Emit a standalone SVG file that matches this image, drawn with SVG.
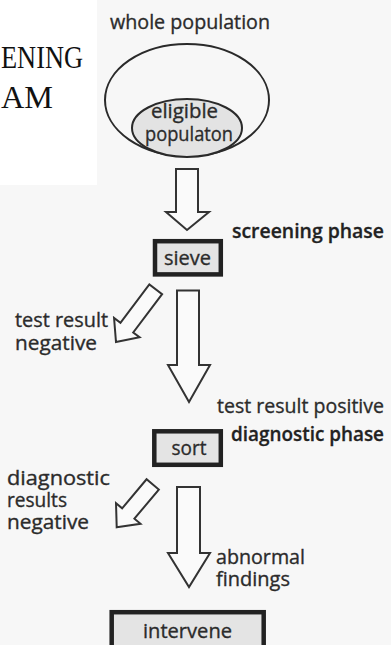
<svg xmlns="http://www.w3.org/2000/svg" width="391" height="645" viewBox="0 0 391 645">
  <style>
    .lbl { font-family: "Open Sans", "Noto Sans", sans-serif; font-size: 20.5px; fill: #2b2b2b; stroke: #2b2b2b; stroke-width: 0.35; }
    .sm { font-size: 19.5px; }
    .phase { font-family: "Open Sans", "Noto Sans", sans-serif; font-size: 20px; font-weight: 600; fill: #222; stroke: #222; stroke-width: 0.3; }
    .title { font-family: "Liberation Serif", "Times New Roman", serif; font-size: 32px; fill: #111; }
    .box { fill: #e4e4e4; stroke: #222; stroke-width: 4.5; }
    .arrow { fill: #fafafa; stroke: #333; stroke-width: 2; stroke-linejoin: miter; }
  </style>

  <!-- paper -->
  <rect x="0" y="0" width="391" height="645" fill="#f7f7f7"/>
  <rect x="0" y="0" width="97" height="185" fill="#ffffff"/>

  <!-- cropped page heading -->
  <g id="heading">
    <text class="title" x="1" y="68" textLength="82" lengthAdjust="spacingAndGlyphs">ENING</text>
    <text class="title" x="1" y="108" textLength="52" lengthAdjust="spacingAndGlyphs">AM</text>
  </g>

  <g id="population">
    <text class="lbl" x="110" y="29" textLength="160" lengthAdjust="spacingAndGlyphs">whole population</text>
    <ellipse cx="187" cy="100" rx="82" ry="56" fill="none" stroke="#2a2a2a" stroke-width="2"/>
    <ellipse cx="187" cy="128" rx="55" ry="29" fill="#e3e3e3" stroke="#2a2a2a" stroke-width="2"/>
    <text class="lbl" x="151" y="118" textLength="67" lengthAdjust="spacingAndGlyphs">eligible</text>
    <text class="lbl" x="145" y="141" textLength="88" lengthAdjust="spacingAndGlyphs">populaton</text>
  </g>

  <g id="connectors">
    <!-- population to sieve -->
    <polygon class="arrow" points="176,169 198,169 198,212 209,212 187,230 166,212 176,212"/>
    <!-- sieve to sort -->
    <polygon class="arrow" points="177,290.5 199,290.5 199,365 210,365 189,402 168,365 177,365"/>
    <!-- sort to intervene -->
    <polygon class="arrow" points="177,487 200,487 200,553 210,553 189,587 168,553 177,553"/>
    <!-- negative screening result -->
    <polygon class="arrow" transform="translate(116,342) rotate(127)" points="0,0 -18,-16 -18,-8 -66,-8 -66,8 -18,8 -18,16"/>
    <!-- negative diagnostic result -->
    <polygon class="arrow" transform="translate(116.7,527.3) rotate(130)" points="0,0 -18,-16 -18,-8 -56,-8 -56,8 -18,8 -18,16"/>
  </g>

  <g id="sieve">
    <rect class="box" x="155" y="241.2" width="65.8" height="33.2"/>
    <text class="lbl" x="187.5" y="265" text-anchor="middle" textLength="47" lengthAdjust="spacingAndGlyphs">sieve</text>
    <text class="phase" x="232" y="238" textLength="152" lengthAdjust="spacingAndGlyphs">screening phase</text>
  </g>

  <g id="negative-test">
    <text class="lbl" x="15" y="327" textLength="93" lengthAdjust="spacingAndGlyphs">test result</text>
    <text class="lbl" x="15" y="350" textLength="82" lengthAdjust="spacingAndGlyphs">negative</text>
  </g>

  <g id="sort">
    <text class="lbl" x="217" y="413" textLength="167" lengthAdjust="spacingAndGlyphs">test result positive</text>
    <rect class="box" x="154.3" y="431.3" width="66.5" height="33.5"/>
    <text class="lbl" x="189" y="455" text-anchor="middle" textLength="35" lengthAdjust="spacingAndGlyphs">sort</text>
    <text class="phase" x="231" y="441" textLength="153" lengthAdjust="spacingAndGlyphs">diagnostic phase</text>
  </g>

  <g id="negative-diagnosis">
    <text class="lbl sm" x="7" y="485" textLength="103" lengthAdjust="spacingAndGlyphs">diagnostic</text>
    <text class="lbl sm" x="7" y="507" textLength="60" lengthAdjust="spacingAndGlyphs">results</text>
    <text class="lbl sm" x="7" y="529" textLength="82" lengthAdjust="spacingAndGlyphs">negative</text>
  </g>

  <g id="intervene">
    <text class="lbl sm" x="216" y="564" textLength="89" lengthAdjust="spacingAndGlyphs">abnormal</text>
    <text class="lbl sm" x="216" y="586" textLength="74" lengthAdjust="spacingAndGlyphs">findings</text>
    <rect class="box" x="111.7" y="612.2" width="152" height="50"/>
    <text class="lbl" x="187.5" y="638" text-anchor="middle" textLength="89" lengthAdjust="spacingAndGlyphs">intervene</text>
  </g>
</svg>
